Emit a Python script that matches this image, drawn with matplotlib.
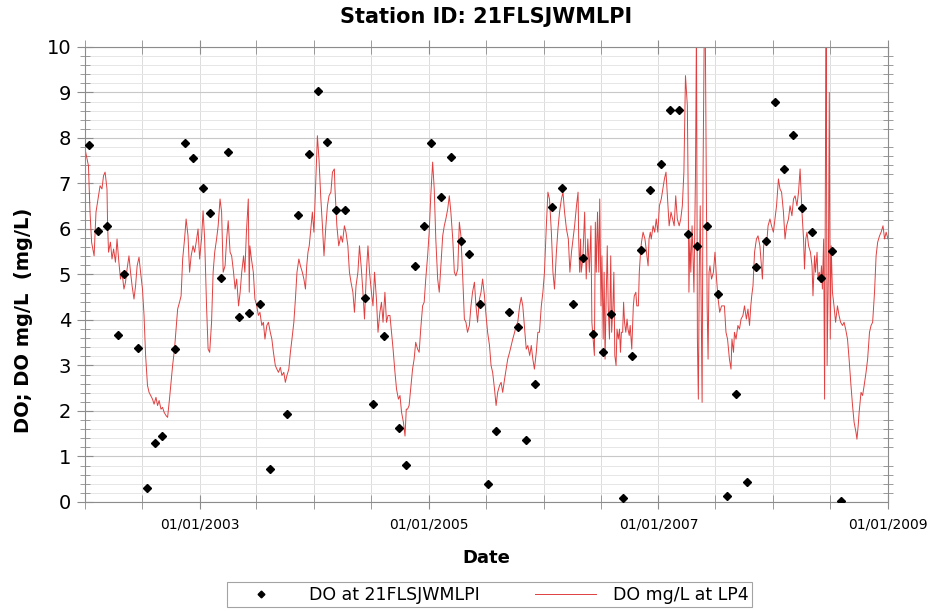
import matplotlib
matplotlib.use("Agg")
import matplotlib.pyplot as plt
import matplotlib.dates as mdates
from matplotlib.ticker import MultipleLocator, FixedLocator
import pandas as pd

# sample dates are given as days since 2002-01-01
start = pd.Timestamp("2002-01-01")

# grab samples at station 21FLSJWMLPI
sample_days = [13, 41, 70, 105, 124, 169, 197, 223, 245, 287, 318, 344, 376, 398,
               433, 455, 490, 522, 557, 589, 643, 678, 713, 742, 771, 799, 828, 892,
               917, 952, 1000, 1022, 1051, 1080, 1102, 1134, 1166, 1197, 1223, 1258,
               1283, 1309, 1350, 1379, 1404, 1433, 1487, 1519, 1554, 1586, 1618, 1650,
               1675, 1713, 1742, 1771, 1799, 1834, 1863, 1892, 1920, 1949, 1981, 2016,
               2044, 2073, 2108, 2137, 2169, 2197, 2226, 2255, 2283, 2316, 2344, 2379,
               2407]
sample_do = [7.85, 5.95, 6.07, 3.67, 5.01, 3.38, 0.31, 1.30, 1.45, 3.36, 7.90, 7.56,
             6.90, 6.35, 4.92, 7.69, 4.07, 4.15, 4.35, 0.73, 1.93, 6.31, 7.65, 9.03,
             7.91, 6.42, 6.42, 4.48, 2.15, 3.65, 1.63, 0.81, 5.19, 6.07, 7.89, 6.70,
             7.58, 5.74, 5.45, 4.35, 0.40, 1.56, 4.18, 3.85, 1.36, 2.59, 6.48, 6.90,
             4.35, 5.36, 3.69, 3.30, 4.13, 0.09, 3.21, 5.54, 6.86, 7.43, 8.62, 8.62,
             5.89, 5.63, 6.07, 4.57, 0.13, 2.37, 0.44, 5.16, 5.74, 8.79, 7.32, 8.07,
             6.46, 5.93, 4.92, 5.52, 0.02]

# continuous record at LP4
lp4_days = [
    0, 11, 16, 21, 29, 35, 43, 48, 54, 59, 64, 70, 72, 75, 81, 86, 91, 97, 102, 107,
    113, 118, 124, 129, 134, 140, 145, 150, 156, 161, 166, 172, 177, 183, 188, 193,
    199, 204, 209, 215, 220, 226, 231, 236, 242, 247, 252, 258, 263, 269, 274, 279,
    285, 290, 295, 301, 306, 311, 317, 322, 328, 333, 338, 344, 349, 354, 360, 365,
    371, 376, 381, 387, 392, 397, 403, 408, 413, 419, 424, 430, 435, 440, 446, 451,
    456, 462, 467, 473, 478, 483, 489, 494, 499, 505,
    509, 514, 520, 523, 525, 530, 536, 541, 547, 552, 557, 563, 568, 573, 579, 584,
    590, 595, 600, 606, 611, 616, 622, 627, 633, 638, 643, 649, 654, 659, 665, 670,
    675, 681, 686, 692, 697, 702, 706, 710, 714, 718, 724, 729, 735, 740, 745, 751,
    756, 761, 767, 772, 777, 783, 788, 794, 796, 802, 808, 815, 820, 826, 831, 837,
    842, 847, 853, 858, 863, 869, 874, 880, 885, 890, 896, 901, 906, 912, 917, 922,
    928, 933, 939, 944, 949, 955, 960, 965, 971, 976, 981, 987, 992, 998, 1003, 1008,
    1014, 1019,
    1023, 1027, 1032, 1037, 1043, 1048, 1053, 1059, 1064, 1069, 1075, 1080, 1085,
    1091, 1096, 1101, 1107, 1112, 1117, 1123, 1128, 1133, 1139, 1144, 1149, 1155,
    1160, 1165, 1171, 1176, 1181, 1187, 1192, 1197, 1203, 1208, 1213, 1218, 1224,
    1229, 1234, 1240, 1245, 1250, 1256, 1261, 1266, 1272, 1277, 1282, 1288, 1293,
    1298, 1304, 1309, 1314, 1320, 1325, 1330, 1336, 1341, 1346, 1352, 1357, 1362,
    1368, 1373, 1378, 1384, 1389, 1394, 1400, 1405, 1410, 1416, 1421, 1426, 1431,
    1437, 1442, 1447, 1453, 1458, 1463, 1469, 1474, 1479, 1485, 1490, 1495, 1501,
    1506, 1511, 1517, 1522, 1527, 1533,
    1539, 1544, 1549, 1554, 1559, 1565, 1570, 1572, 1575, 1578, 1580, 1585, 1591,
    1594, 1596, 1601, 1606, 1611, 1614, 1618, 1622, 1625, 1628, 1632, 1636, 1639,
    1643, 1646, 1650, 1653, 1656, 1659, 1663, 1666, 1670, 1674, 1677, 1681, 1684,
    1687, 1691, 1694, 1698, 1702, 1705, 1708, 1712, 1715, 1718, 1722, 1726, 1729,
    1733, 1736, 1741, 1746, 1749, 1754, 1757, 1762, 1765, 1769, 1772, 1777, 1783,
    1788, 1793, 1796, 1800, 1803, 1809, 1814, 1819, 1824, 1829, 1835, 1840, 1845,
    1850, 1855, 1860, 1866, 1871, 1876, 1881, 1886, 1892, 1897, 1902, 1907, 1912,
    1918, 1921, 1923, 1926, 1929, 1933, 1936, 1939, 1944, 1947, 1950, 1953, 1956,
    1959, 1962, 1965, 1968, 1972, 1975, 1978, 1981, 1984, 1987, 1990, 1995, 2001,
    2006, 2011, 2016, 2021, 2027,
    2036, 2041, 2046, 2052, 2057, 2060, 2065, 2068, 2073, 2079, 2084, 2089, 2095,
    2100, 2106, 2111, 2116, 2120, 2123, 2127, 2132, 2138, 2143, 2149, 2154, 2157,
    2161, 2165, 2170, 2175, 2181, 2186, 2192, 2197, 2202, 2208, 2213, 2218, 2224,
    2229, 2234, 2240, 2245, 2251, 2256, 2261, 2267, 2272, 2277, 2283, 2288, 2291,
    2295, 2299, 2304, 2310, 2315, 2318, 2323, 2326, 2331, 2334, 2338, 2342, 2345,
    2348, 2352, 2355, 2358, 2360, 2363, 2367, 2370, 2373, 2376, 2380, 2385, 2390,
    2396, 2401, 2406, 2412, 2417, 2422, 2428, 2433, 2439, 2444, 2449, 2455, 2458,
    2462, 2465, 2471, 2476, 2481, 2487, 2492, 2498, 2503, 2508, 2514, 2519, 2524,
    2530, 2535, 2541, 2546, 2551, 2557]
lp4_do = [
    7.76, 7.39, 6.37, 5.71, 5.41, 6.37, 6.73, 6.95, 6.88, 7.17, 7.25, 6.88, 6.07, 5.49,
    5.71, 5.34, 5.56, 5.27, 5.78, 5.34, 4.90, 5.05, 4.68, 4.83, 5.12, 5.41, 5.05, 4.75,
    4.46, 4.75, 5.19, 5.38, 5.05, 4.68, 4.10, 3.22, 2.56, 2.41, 2.34, 2.26, 2.15, 2.30,
    2.12, 2.23, 2.04, 2.08, 1.97, 1.90, 1.86, 2.26, 2.63, 3.00, 3.36, 3.80, 4.24, 4.39,
    4.53, 5.34, 5.78, 6.22, 5.85, 5.05, 5.41, 5.63, 5.49, 5.71, 6.00, 5.34, 5.78, 6.40,
    5.78, 4.31, 3.36, 3.29, 3.95, 5.05, 5.49, 5.78, 6.07, 6.66, 6.37, 5.05, 5.19, 5.78,
    6.18, 5.49, 5.41, 5.05, 4.68, 4.90, 4.31, 4.61, 5.05, 5.41,
    5.05, 5.93, 6.66, 4.61, 5.63, 5.34, 5.05, 4.46, 4.31, 4.10, 4.17, 3.88, 3.95, 3.58,
    3.88, 3.95, 3.73, 3.58, 3.29, 3.00, 2.92, 2.85, 2.96, 2.78, 2.85, 2.63, 2.78, 2.92,
    3.29, 3.58, 3.95, 4.46, 5.05, 5.34, 5.19, 5.05, 4.90, 4.68, 5.19, 5.49, 5.63, 5.93,
    6.37, 5.93, 7.10, 8.05, 7.54, 6.66, 6.07, 5.41, 6.07, 6.51, 6.73, 6.81, 7.25, 7.32,
    6.88, 6.07, 5.63, 5.85, 5.71, 6.07, 5.93, 5.63, 5.05, 4.83, 4.61, 4.17, 4.75, 5.05,
    5.63, 5.12, 4.61, 4.02, 5.05, 5.63, 5.05, 4.61, 4.31, 5.05, 4.46, 3.73, 4.17, 4.39,
    3.95, 4.61, 3.95, 4.10, 4.10, 3.73, 3.36, 2.85, 2.48, 2.26, 2.34, 1.97, 1.75, 1.45,
    2.04, 2.04, 2.12, 2.48, 2.92, 3.14, 3.51, 3.36, 3.29, 3.80, 4.31, 4.39, 4.90, 5.41,
    5.93, 6.73, 7.47, 6.88, 5.78, 4.90, 4.61, 5.19, 5.85, 6.07, 6.22, 6.44, 6.73, 6.37,
    5.78, 5.05, 4.97, 5.12, 6.15, 5.85, 4.90, 4.02, 3.95, 3.73, 3.88, 4.31, 4.61, 4.83,
    4.31, 3.95, 4.46, 4.61, 4.90, 4.53, 4.10, 3.73, 3.44, 3.00, 2.85, 2.48, 2.12, 2.41,
    2.56, 2.63, 2.41, 2.70, 2.92, 3.14, 3.29, 3.44, 3.58, 3.73, 3.88, 3.95, 4.31, 4.50,
    4.31, 3.80, 3.36, 3.44, 3.22, 3.44, 3.14, 2.92, 3.29, 3.73, 3.73, 4.31, 4.61, 5.05,
    6.07, 6.81, 6.66, 5.93, 5.05, 4.68, 5.49, 6.00, 6.37, 6.66, 6.81, 6.37, 6.00,
    5.78, 5.05, 5.49, 5.78, 6.07, 6.51, 6.81, 5.78, 5.05, 5.78, 5.05, 5.34, 6.37, 5.41,
    4.90, 5.78, 5.05, 6.07, 3.95, 3.58, 3.22, 6.15, 5.05, 6.37, 5.05, 6.66, 4.31, 5.41,
    3.58, 5.05, 3.14, 4.31, 5.63, 4.31, 3.58, 5.41, 3.73, 4.31, 5.05, 3.22, 3.00, 3.80,
    3.58, 3.80, 3.29, 3.73, 3.73, 4.39, 3.95, 3.73, 4.02, 3.80, 3.66, 3.88, 3.36, 4.31,
    4.53, 4.61, 4.31, 4.31, 5.05, 5.49, 5.71, 5.93, 5.78, 5.49, 5.19, 5.78, 5.93, 5.78,
    6.07, 5.93, 6.22, 5.93, 6.51, 6.66, 6.88, 7.10, 7.25, 6.66, 6.07, 6.37, 6.22, 6.07,
    6.73, 6.22, 6.07, 6.22, 6.51, 7.25, 9.37, 8.71, 6.51, 4.61, 5.78, 5.05, 6.07, 5.41,
    4.61, 7.25, 10.5, 3.58, 2.26, 5.05, 6.51, 4.31, 2.19, 7.25, 10.5, 10.5, 7.25, 4.31,
    3.14, 5.05, 5.19, 4.90, 5.05, 5.49, 4.90, 4.46, 4.17, 4.31,
    4.31, 3.73, 3.58, 3.14, 2.92, 3.58, 3.29, 3.73, 3.58, 3.88, 3.80, 4.02, 4.10, 4.31,
    4.02, 4.24, 3.88, 4.31, 4.53, 4.75, 5.49, 5.78, 5.85, 5.63, 5.19, 4.90, 5.63, 5.78,
    5.63, 6.07, 6.22, 6.07, 5.93, 6.22, 6.51, 7.10, 6.88, 6.81, 6.37, 5.78, 6.07, 6.22,
    6.51, 6.29, 6.66, 6.73, 6.51, 6.81, 7.32, 6.37, 5.78, 5.12, 5.78, 5.93, 5.63, 5.49,
    5.19, 4.53, 5.41, 5.05, 5.49, 4.90, 5.05, 4.83, 5.19, 4.68, 5.78, 2.26, 7.98, 10.5,
    3.00, 5.05, 9.00, 3.58, 5.63, 4.61, 4.31, 3.95, 4.31, 4.10, 3.95, 3.88, 3.95, 3.80,
    3.58, 3.14, 2.56, 2.12, 1.75, 1.53, 1.38, 1.68, 1.97, 2.41, 2.34, 2.56, 2.85, 3.14,
    3.73, 3.88, 3.95, 4.61, 5.41, 5.71, 5.85, 5.93, 6.07, 5.78, 5.93, 5.78]

# labelled dates on the x axis
label_dates = ["2003-01-01", "2005-01-01", "2007-01-01", "2009-01-01"]

sample_dates = start + pd.to_timedelta(sample_days, unit="D")
lp4_dates = start + pd.to_timedelta(lp4_days, unit="D")

fig = plt.figure(figsize=(9.33, 6.11), dpi=100)
ax = fig.add_axes([0.0911, 0.1784, 0.8607, 0.7447])

ax.plot(sample_dates, sample_do, "D", color="black", markersize=4.3,
        label="DO at 21FLSJWMLPI", zorder=3)
ax.plot(lp4_dates, lp4_do, "-", color="#e04040", linewidth=0.7,
        label="DO mg/L at LP4", zorder=2)

ax.set_xlim(pd.Timestamp("2002-01-01"), pd.Timestamp("2009-01-01"))
ax.set_ylim(0, 10)

# x axis: labels every two years, ticks and grid every six months
ax.xaxis.set_major_locator(FixedLocator(mdates.date2num(pd.to_datetime(label_dates))))
ax.xaxis.set_major_formatter(mdates.DateFormatter("%m/%d/%Y"))
ax.xaxis.set_minor_locator(mdates.MonthLocator(bymonth=[1, 7]))
ax.yaxis.set_major_locator(MultipleLocator(1))
ax.yaxis.set_minor_locator(MultipleLocator(0.2))

ax.grid(which="major", axis="y", color="#c8c8c8", linewidth=0.8)
ax.grid(which="minor", axis="y", color="#e6e6e6", linewidth=0.7)
ax.grid(which="both", axis="x", color="#dcdcdc", linewidth=0.7)
ax.set_axisbelow(True)

for s in ax.spines.values():
    s.set_color("#8c8c8c")
    s.set_linewidth(0.8)

ax.tick_params(axis="x", which="both", direction="inout", length=10,
               color="#8c8c8c", labelsize=10, pad=6, top=True)
ax.tick_params(axis="y", which="major", direction="inout", length=12,
               color="#8c8c8c", labelsize=14, pad=4)
ax.tick_params(axis="y", which="minor", direction="inout", length=7,
               color="#8c8c8c", right=True)

ax.set_title("Station ID: 21FLSJWMLPI", fontsize=15, fontweight="bold", pad=17)
ax.set_xlabel("Date", fontsize=13, fontweight="bold", labelpad=13)
ax.set_ylabel("DO; DO mg/L  (mg/L)", fontsize=14, fontweight="bold")
ax.yaxis.set_label_coords(-0.065, 0.40)

leg = fig.legend(loc="lower center", bbox_to_anchor=(0.525, -0.008), ncol=2,
                 fontsize=12.5, frameon=True, fancybox=False, edgecolor="#8c8c8c",
                 handlelength=3.5, columnspacing=3.2, markerscale=0.8,
                 borderpad=0.2, handletextpad=1.0)
leg.get_frame().set_linewidth(0.8)

fig.savefig("out.png", dpi=100)
